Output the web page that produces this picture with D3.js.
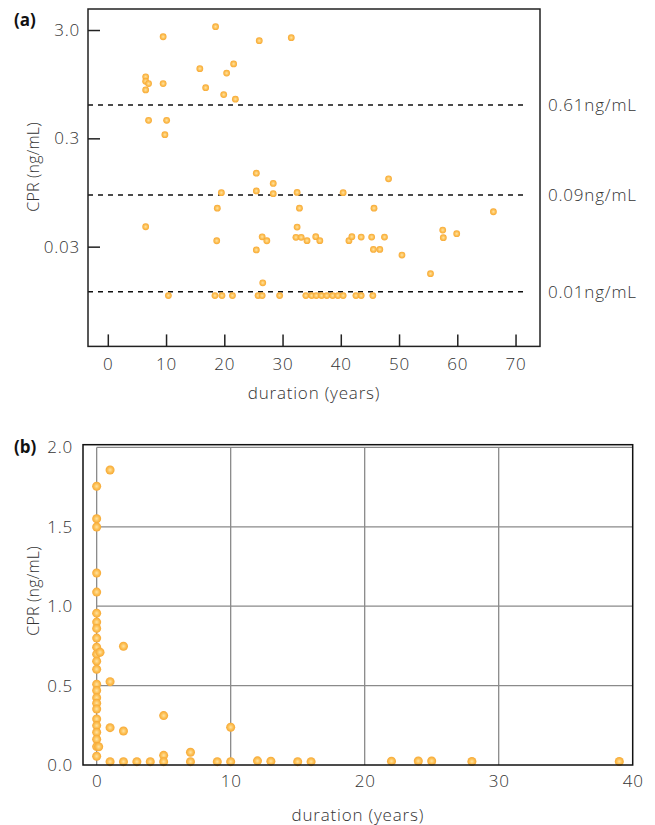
<!DOCTYPE html>
<html>
<head>
<meta charset="utf-8">
<script src="https://cdn.jsdelivr.net/npm/d3@7"></script>
<style>
  body { margin: 0; background: #fff; }
  text { font-family: "Open Sans", sans-serif; }
</style>
</head>
<body>
<div id="chart"></div>
<script>

// panel (a): CPR vs duration, log scale
var durA = [
    6.5, 6.5, 7.0, 6.5, 9.5, 9.5, 7.0, 10.1, 9.8, 15.8, 16.8, 18.5, 19.9, 20.4, 21.6, 21.9, 26.0, 31.5,
    6.5, 19.5, 18.8, 18.7, 25.5, 25.5, 26.5, 27.3, 25.5, 26.6, 28.4, 28.4, 32.5, 32.9, 32.5, 32.3, 33.2, 34.2,
    35.7, 36.4, 40.4, 48.2, 45.7, 41.4, 41.9, 43.5, 45.3, 47.5, 45.6, 46.7, 50.5, 55.4, 57.5, 57.6, 59.9, 66.2,
    10.4, 18.4, 19.6, 21.4, 25.8, 26.5, 29.5, 34.0, 35.0, 35.8, 36.7, 37.6, 38.6, 39.5, 40.4, 42.6, 43.5, 45.5
];
var cprA = [
    1.11, 1.01, 0.96, 0.84, 2.6, 0.96, 0.44, 0.44, 0.324, 1.32, 0.88, 3.22, 0.76, 1.2, 1.46, 0.69, 2.39, 2.55,
    0.0458, 0.0945, 0.068, 0.034, 0.143, 0.098, 0.037, 0.034, 0.028, 0.0139, 0.115, 0.0926, 0.095, 0.068, 0.0455, 0.0366, 0.0366, 0.0341,
    0.0371, 0.0341, 0.0945, 0.127, 0.068, 0.0341, 0.0371, 0.0368, 0.0368, 0.0368, 0.0283, 0.0283, 0.0251, 0.0169, 0.0427, 0.0363, 0.0395, 0.063,
    0.0106, 0.0106, 0.0106, 0.0106, 0.0106, 0.0106, 0.0106, 0.0106, 0.0106, 0.0106, 0.0106, 0.0106, 0.0106, 0.0106, 0.0106, 0.0106, 0.0106, 0.0106
];
var xTicksA = [0, 10, 20, 30, 40, 50, 60, 70];
var yTicksA = [3, 0.3, 0.03];
var yTickLabelsA = ["3.0", "0.3", "0.03"];
var cutValues = [0.61, 0.09, 0.0115];
var cutLabels = ["0.61ng/mL", "0.09ng/mL", "0.01ng/mL"];

// panel (b): CPR vs duration, linear scale
var durB = [
    0, 0, 0, 0, 0, 0, 0, 0, 0, 0, 0, 0, 0, 0, 0, 0, 0, 0, 0, 0, 0, 0, 0, 0,
    1, 0.25, 0.15, 2, 1, 1, 2, 5, 10, 5, 7,
    1, 2, 3, 4, 5, 7, 9, 10, 12, 13, 15, 16, 22, 24, 25, 28, 39
];
var cprB = [
    1.755, 1.551, 1.499, 1.209, 1.089, 0.956, 0.90, 0.86, 0.799, 0.742, 0.698, 0.654, 0.603, 0.509, 0.469, 0.424, 0.389, 0.353, 0.29, 0.248, 0.206, 0.162, 0.116, 0.055,
    1.858, 0.71, 0.115, 0.748, 0.525, 0.235, 0.214, 0.311, 0.238, 0.061, 0.08,
    0.021, 0.021, 0.021, 0.021, 0.021, 0.021, 0.021, 0.021, 0.026, 0.024, 0.021, 0.021, 0.024, 0.025, 0.025, 0.022, 0.022
];
var xTicksB = [0, 10, 20, 30, 40];
var yTicksB = [0, 0.5, 1.0, 1.5, 2.0];

var textColor = "#333";

var svg = d3.select("#chart")
    .append("svg")
    .attr("width", 655)
    .attr("height", 825);

var defs = svg.append("defs");
var grad = defs.append("radialGradient")
    .attr("id", "dot")
    .attr("cx", "50%").attr("cy", "50%").attr("r", "50%");
grad.append("stop").attr("offset", "0%").attr("stop-color", "#ffe3a3");
grad.append("stop").attr("offset", "55%").attr("stop-color", "#fdc156");
grad.append("stop").attr("offset", "100%").attr("stop-color", "#f6a834");

function lightText(sel, size, spacing) {
    sel.attr("fill", textColor)
        .style("font-size", size + "px")
        .style("font-weight", 300)
        .style("letter-spacing", spacing + "px");
}

function styleAxis(g) {
    g.select(".domain").remove();
    g.selectAll(".tick line").attr("stroke", "#222").attr("stroke-width", 1.5);
    g.selectAll(".tick text").call(lightText, 17, 0.8);
}

function panelLabel(str, x, y) {
    svg.append("text")
        .attr("x", x).attr("y", y)
        .style("font-size", "17px")
        .style("font-weight", 700)
        .attr("fill", "#111")
        .text(str);
}

function axisTitle(str, x, y, rotate) {
    svg.append("text")
        .attr("transform", "translate(" + x + "," + y + ")" + (rotate ? " rotate(-90)" : ""))
        .attr("text-anchor", "middle")
        .call(lightText, rotate ? 16 : 17, rotate ? 0.2 : 0.8)
        .text(str);
}

// ---------- panel (a) ----------
var boxA = {left: 88, right: 540, top: 9, bottom: 346.4};

var xA = d3.scaleLinear().domain([-3.4, 74.2]).range([boxA.left, boxA.right]);
var yA = d3.scaleLog().domain([0.0036, 4.69]).range([boxA.bottom, boxA.top]);

var gA = svg.append("g");

gA.append("g")
    .attr("transform", "translate(0," + boxA.bottom + ")")
    .call(d3.axisBottom(xA).tickValues(xTicksA).tickSize(-12).tickPadding(12))
    .call(styleAxis);

gA.append("g")
    .attr("transform", "translate(" + boxA.left + ",0)")
    .call(d3.axisLeft(yA).tickValues(yTicksA).tickSize(-12).tickPadding(8)
        .tickFormat(function(d, i){ return yTickLabelsA[i]; }))
    .call(styleAxis);

gA.selectAll(".cut")
    .data(cutValues)
    .enter()
    .append("line")
    .attr("class", "cut")
    .attr("x1", boxA.left)
    .attr("x2", xA(72))
    .attr("y1", function(d){ return yA(d); })
    .attr("y2", function(d){ return yA(d); })
    .attr("stroke", "#111")
    .attr("stroke-width", 1.4)
    .attr("stroke-dasharray", "5,5");

gA.selectAll(".cutLabel")
    .data(cutValues)
    .enter()
    .append("text")
    .attr("class", "cutLabel")
    .attr("x", 548)
    .attr("y", function(d){ return yA(d); })
    .attr("dy", "0.36em")
    .call(lightText, 17, 0.8)
    .text(function(d, i){ return cutLabels[i]; });

gA.selectAll(".dotA")
    .data(d3.range(durA.length))
    .enter()
    .append("circle")
    .attr("class", "dotA")
    .attr("cx", function(i){ return xA(durA[i]); })
    .attr("cy", function(i){ return yA(cprA[i]); })
    .attr("r", 3.4)
    .attr("fill", "url(#dot)");

gA.append("rect")
    .attr("x", boxA.left).attr("y", boxA.top)
    .attr("width", boxA.right - boxA.left)
    .attr("height", boxA.bottom - boxA.top)
    .attr("fill", "none")
    .attr("stroke", "#222")
    .attr("stroke-width", 1.5);

panelLabel("(a)", 14, 26);
axisTitle("CPR (ng/mL)", 39, 167, true);
axisTitle("duration (years)", (boxA.left + boxA.right) / 2, 399, false);

// ---------- panel (b) ----------
var boxB = {left: 83, right: 632.7, top: 444.7, bottom: 765};

var xB = d3.scaleLinear().domain([-1.02, 40]).range([boxB.left, boxB.right]);
var yB = d3.scaleLinear().domain([0, 2.017]).range([boxB.bottom, boxB.top]);

var gB = svg.append("g");

gB.selectAll(".vgrid")
    .data(xTicksB.slice(0, -1))
    .enter()
    .append("line")
    .attr("class", "vgrid")
    .attr("x1", function(d){ return xB(d); })
    .attr("x2", function(d){ return xB(d); })
    .attr("y1", yB(2.0))
    .attr("y2", boxB.bottom)
    .attr("stroke", "#8a8a8a")
    .attr("stroke-width", 1.3);

gB.selectAll(".hgrid")
    .data(yTicksB.slice(1))
    .enter()
    .append("line")
    .attr("class", "hgrid")
    .attr("x1", xB(0))
    .attr("x2", boxB.right)
    .attr("y1", function(d){ return yB(d); })
    .attr("y2", function(d){ return yB(d); })
    .attr("stroke", "#8a8a8a")
    .attr("stroke-width", 1.3);

gB.append("g")
    .attr("transform", "translate(0," + boxB.bottom + ")")
    .call(d3.axisBottom(xB).tickValues(xTicksB).tickSize(0).tickPadding(10))
    .call(styleAxis);

gB.append("g")
    .attr("transform", "translate(" + boxB.left + ",0)")
    .call(d3.axisLeft(yB).tickValues(yTicksB).tickSize(0).tickPadding(10)
        .tickFormat(d3.format(".1f")))
    .call(styleAxis);

gB.selectAll(".dotB")
    .data(d3.range(durB.length))
    .enter()
    .append("circle")
    .attr("class", "dotB")
    .attr("cx", function(i){ return xB(durB[i]); })
    .attr("cy", function(i){ return yB(cprB[i]); })
    .attr("r", 4.5)
    .attr("fill", "url(#dot)");

gB.append("rect")
    .attr("x", boxB.left).attr("y", boxB.top)
    .attr("width", boxB.right - boxB.left)
    .attr("height", boxB.bottom - boxB.top)
    .attr("fill", "none")
    .attr("stroke", "#111")
    .attr("stroke-width", 1.5);

panelLabel("(b)", 14, 453);
axisTitle("CPR (ng/mL)", 39, 591, true);
axisTitle("duration (years)", (boxB.left + boxB.right) / 2, 821, false);

</script>
</body>
</html>
